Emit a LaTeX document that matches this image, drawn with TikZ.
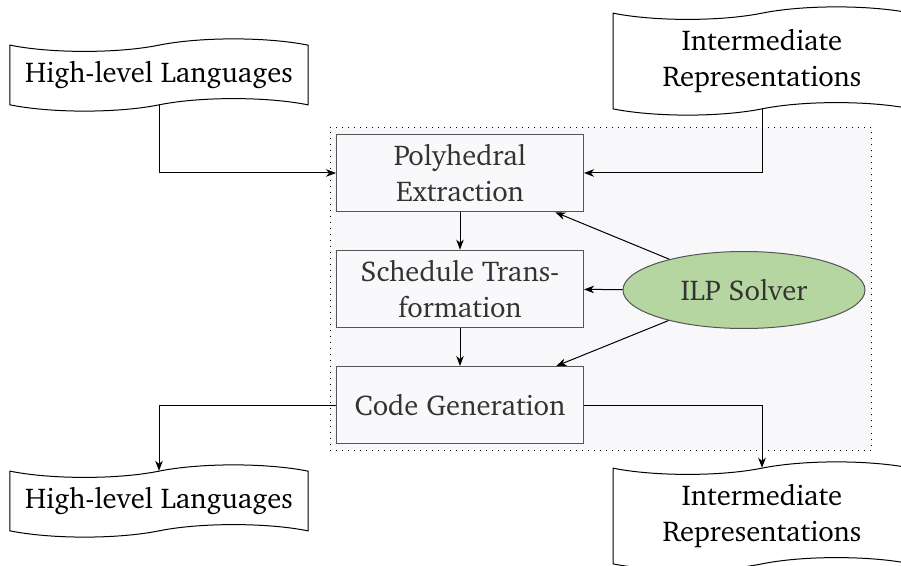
\documentclass[tikz,border=0pt,12pt]{standalone}
\usepackage[T1]{fontenc}
\usepackage{charter}
\usepackage{xcolor}
\usepackage{tikz}
\usetikzlibrary{shapes.symbols, shapes.geometric}
\usetikzlibrary{backgrounds, fit, arrows.meta}

\definecolor{stageborder}{HTML}{555555}
\definecolor{stagetext}{HTML}{333333}
\definecolor{stagefill}{HTML}{F9F9FB}
\definecolor{regionfill}{HTML}{F8F8FB}
\definecolor{solverfill}{HTML}{B5D6A0}

\begin{document}
\begin{tikzpicture}[x = 0.4pt, y = -0.4pt, >={Stealth[length=4pt, width=3pt, inset=1.2pt]},
	every node/.style = {font=\fontsize{11.45}{14.4}\selectfont},
	lang/.style = {tape, draw, fill=white, minimum width=119.2pt, align=center},
	stage/.style = {rectangle, draw=stageborder, fill=stagefill, text=stagetext, minimum width=98.8pt, minimum height=30.8pt, align=center},
	solver/.style = {ellipse, draw=stageborder, fill=solverfill, text=stagetext, minimum width=96.8pt, minimum height=30.8pt}]
	\useasboundingbox (0,0) rectangle (901,566);
	% inputs
	\node[lang, minimum height=26.4pt] (hllin) at (159,75) {High-level Languages};
	\node[lang, minimum height=37.6pt] (irin) at (762,61) {Intermediate\\Representations};
	% polyhedral stages
	\node[stage] (poly) at (460,173) {Polyhedral\\Extraction};
	\node[stage] (sched) at (460,289) {Schedule Trans-\\formation};
	\node[stage] (codegen) at (460,405) {Code Generation};
	\node[solver] (ilp) at (744,290) {ILP Solver};
	% outputs
	\node[lang, minimum height=26.4pt] (hllout) at (159,501) {High-level Languages};
	\node[lang, minimum height=37.6pt] (irout) at (762,516) {Intermediate\\Representations};
	\begin{scope}[on background layer]
		\node[draw, dotted, fill=regionfill, inner sep=2.4pt, fit=(poly)(codegen)(ilp)] (region) {};
	\end{scope}
	\draw[->] (hllin.south) |- (poly.west);
	\draw[->] (irin.south) |- (poly.east);
	\draw[->] (poly) -- (sched);
	\draw[->] (sched) -- (codegen);
	\draw[->] (ilp) -- (poly);
	\draw[->] (ilp) -- (sched);
	\draw[->] (ilp) -- (codegen);
	\draw[->] (codegen.west) -| (hllout.north);
	\draw[->] (codegen.east) -| (irout.north);
\end{tikzpicture}
\end{document}
